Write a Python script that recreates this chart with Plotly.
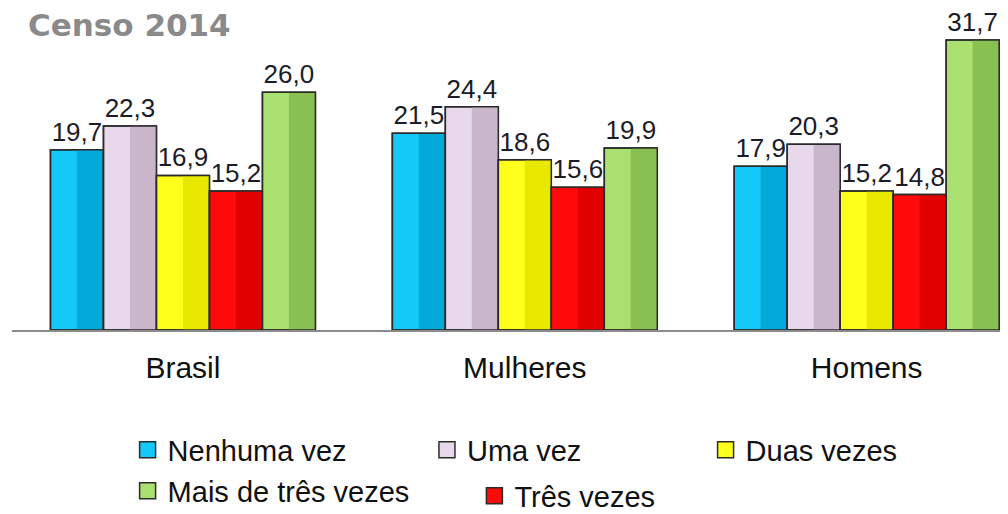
import plotly.graph_objects as go

categorias = ['Brasil', 'Mulheres', 'Homens']

nenhuma_vez = [19.7, 21.5, 17.9]
uma_vez = [22.3, 24.4, 20.3]
duas_vezes = [16.9, 18.6, 15.2]
tres_vezes = [15.2, 15.6, 14.8]
mais_de_tres = [26.0, 19.9, 31.7]

# a pagina tem margem de 8px no body, por isso a figura fica 8px menor
W, H = 1000, 506

# nome, valores, cor clara, cor escura (metade direita), legenda, posicao da legenda (px)
series = [
    ('Nenhuma vez', nenhuma_vez, '#14C8F8', '#02A9D9', 'legend', (117, 442)),
    ('Uma vez', uma_vez, '#E8D8EC', '#C9B6CB', 'legend2', (420, 442)),
    ('Duas vezes', duas_vezes, '#FFFF1E', '#E9E900', 'legend3', (702, 442)),
    ('Três vezes', tres_vezes, '#FF0A0A', '#E00000', 'legend5', (468, 488)),
    ('Mais de três vezes', mais_de_tres, '#A9E070', '#88C152', 'legend4', (117, 483)),
]

x_num = list(range(len(categorias)))
largura = 0.155
inicio = -largura * len(series) / 2

fig = go.Figure()

for i, (nome, valores, cor, escura, leg, _) in enumerate(series):
    off = inicio + i * largura
    # barra base
    fig.add_trace(go.Bar(
        x=x_num, y=valores, showlegend=False,
        offset=off, width=largura,
        marker=dict(color=cor, line=dict(color='#2b2b2b', width=1.5)),
        hoverinfo='skip'
    ))
    # sombra na metade direita
    fig.add_trace(go.Bar(
        x=x_num, y=valores, showlegend=False,
        offset=off + largura / 2, width=largura / 2,
        marker=dict(color=escura, line=dict(width=0)),
        hoverinfo='skip'
    ))
    # contorno e rotulo
    fig.add_trace(go.Bar(
        x=x_num, y=valores, showlegend=False,
        offset=off, width=largura,
        marker=dict(color='rgba(0,0,0,0)', line=dict(color='#2b2b2b', width=1.5)),
        texttemplate='%{y:.1f}',
        textposition='outside',
        textfont=dict(family='Liberation Sans, Arial', size=26, color='#1c1c28'),
        cliponaxis=False,
        hoverinfo='skip'
    ))
    # item de legenda com quadrado maior
    fig.add_trace(go.Scatter(
        x=[None], y=[None], name=nome, legend=leg,
        mode='markers',
        marker=dict(symbol='square', size=16, color=cor,
                    line=dict(color='#2b2b2b', width=1.5)),
        hoverinfo='skip'
    ))

layout_legendas = {}
for nome, valores, cor, escura, leg, (lx, ly) in series:
    layout_legendas[leg] = dict(
        x=lx / W, xanchor='left',
        y=1 - ly / H, yanchor='middle', yref='container',
        font=dict(family='Liberation Sans, Arial', size=29, color='#111111'),
        bgcolor='rgba(0,0,0,0)',
        itemsizing='trace',
        itemclick=False, itemdoubleclick=False
    )

fig.update_layout(
    width=W,
    height=H,
    margin=dict(l=4, r=8, t=11, b=184),
    plot_bgcolor='white',
    paper_bgcolor='white',
    separators=',.',
    barmode='overlay',
    showlegend=True,
    title=dict(
        text='<b>Censo 2014</b>',
        x=20 / W, xanchor='left',
        y=1 - 17 / H, yanchor='middle', yref='container',
        font=dict(family='DejaVu Sans', size=31, color='#8a8a8a')
    ),
    xaxis=dict(
        range=[-0.5, 2.39],
        tickmode='array',
        tickvals=x_num,
        ticktext=categorias,
        showgrid=False,
        zeroline=False,
        showline=True,
        linecolor='#8c8c8c',
        linewidth=2,
        ticks='',
        ticklabelstandoff=10,
        tickfont=dict(family='Liberation Sans, Arial', size=30, color='#111111'),
        fixedrange=True
    ),
    yaxis=dict(
        range=[0, 34],
        visible=False,
        fixedrange=True
    ),
    hovermode=False,
    **layout_legendas
)

fig.write_html('out.html')
